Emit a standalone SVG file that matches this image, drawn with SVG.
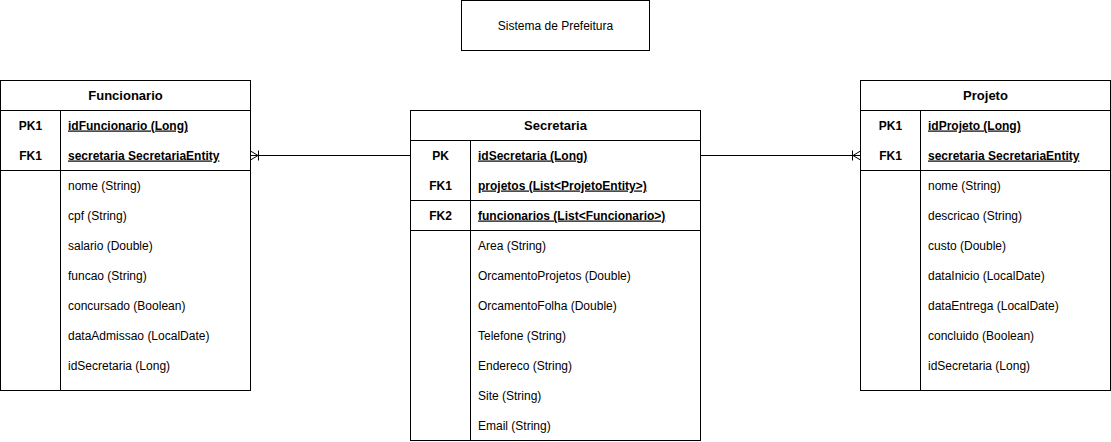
<svg xmlns="http://www.w3.org/2000/svg" width="1111" height="442" viewBox="0 0 1111 442">
<style>
text{font-family:"Liberation Sans",Arial,sans-serif;font-size:12px;fill:#000}
.h{font-weight:bold;font-size:13px;text-anchor:middle}
.k{font-weight:bold;text-anchor:middle}
.u{font-weight:bold;text-decoration:underline}
.box{fill:#fff;stroke:#000;stroke-width:1}
.ln{stroke:#000;stroke-width:1;fill:none}
</style>
<rect width="1111" height="442" fill="#fff"/>
<g id="title">
<rect class="box" x="461.5" y="0.5" width="188" height="50"/>
<text x="555.5" y="29.5" text-anchor="middle">Sistema de Prefeitura</text>
</g>
<g id="funcionario">
<rect class="box" x="0.5" y="80.5" width="250" height="310"/>
<path class="ln" d="M0.5 110.5H250.5M0.5 170.5H250.5M60.5 110.5V390.5"/>
<text class="h" x="125.5" y="100">Funcionario</text>
<text class="k" x="30.5" y="129.5">PK1</text>
<text class="k" x="30.5" y="159.5">FK1</text>
<text class="u" x="68" y="129.5">idFuncionario (Long)</text>
<text class="u" x="68" y="159.5">secretaria SecretariaEntity</text>
<text x="68" y="189.5">nome (String)</text>
<text x="68" y="219.5">cpf (String)</text>
<text x="68" y="249.5">salario (Double)</text>
<text x="68" y="279.5">funcao (String)</text>
<text x="68" y="309.5">concursado (Boolean)</text>
<text x="68" y="339.5">dataAdmissao (LocalDate)</text>
<text x="68" y="369.5">idSecretaria (Long)</text>
</g>
<g id="secretaria">
<rect class="box" x="410.5" y="110.5" width="290" height="330"/>
<path class="ln" d="M410.5 140.5H700.5M410.5 200.5H700.5M410.5 230.5H700.5M470.5 140.5V440.5"/>
<text class="h" x="555.5" y="130">Secretaria</text>
<text class="k" x="440.5" y="159.5">PK</text>
<text class="k" x="440.5" y="189.5">FK1</text>
<text class="k" x="440.5" y="219.5">FK2</text>
<text class="u" x="478" y="159.5">idSecretaria (Long)</text>
<text class="u" x="478" y="189.5">projetos (List&lt;ProjetoEntity&gt;)</text>
<text class="u" x="478" y="219.5">funcionarios (List&lt;Funcionario&gt;)</text>
<text x="478" y="249.5">Area (String)</text>
<text x="478" y="279.5">OrcamentoProjetos (Double)</text>
<text x="478" y="309.5">OrcamentoFolha (Double)</text>
<text x="478" y="339.5">Telefone (String)</text>
<text x="478" y="369.5">Endereco (String)</text>
<text x="478" y="399.5">Site (String)</text>
<text x="478" y="429.5">Email (String)</text>
</g>
<g id="projeto">
<rect class="box" x="860.5" y="80.5" width="250" height="310"/>
<path class="ln" d="M860.5 110.5H1110.5M860.5 170.5H1110.5M920.5 110.5V390.5"/>
<text class="h" x="985.5" y="100">Projeto</text>
<text class="k" x="890.5" y="129.5">PK1</text>
<text class="k" x="890.5" y="159.5">FK1</text>
<text class="u" x="928" y="129.5">idProjeto (Long)</text>
<text class="u" x="928" y="159.5">secretaria SecretariaEntity</text>
<text x="928" y="189.5">nome (String)</text>
<text x="928" y="219.5">descricao (String)</text>
<text x="928" y="249.5">custo (Double)</text>
<text x="928" y="279.5">dataInicio (LocalDate)</text>
<text x="928" y="309.5">dataEntrega (LocalDate)</text>
<text x="928" y="339.5">concluido (Boolean)</text>
<text x="928" y="369.5">idSecretaria (Long)</text>
</g>
<g id="connectors">
<path class="ln" d="M410.5 155.5H250.5M250.5 151L258 155.5L250.5 160M258.5 150.5V160.5"/>
<path class="ln" d="M700.5 155.5H860.5M860.5 151L853 155.5L860.5 160M852.5 150.5V160.5"/>
</g>
</svg>
